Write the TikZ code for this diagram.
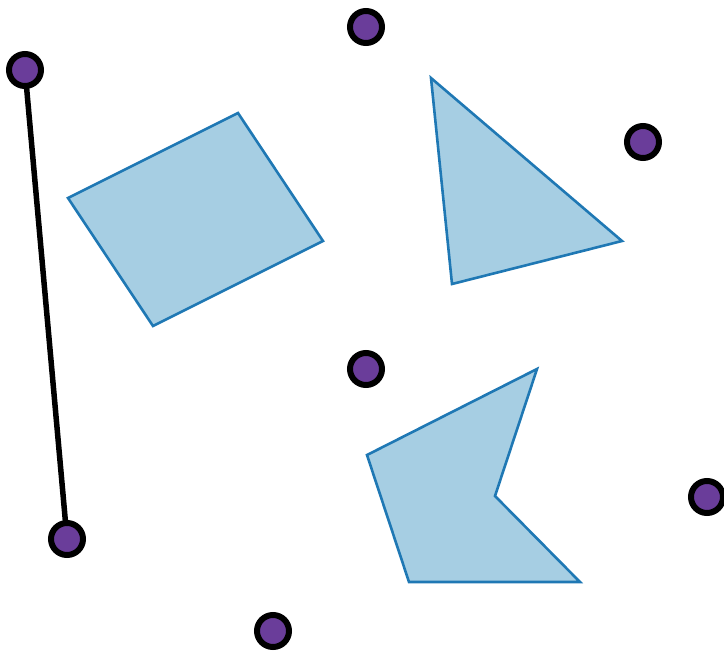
\documentclass[tikz,border=0pt]{standalone}
\usetikzlibrary{positioning}
\definecolor{shapefill}{RGB}{166,206,227}
\definecolor{shapeedge}{RGB}{31,120,180}
\definecolor{dotfill}{RGB}{106,61,154}
\tikzset{
  region/.style={fill=shapefill,draw=shapeedge,line width=2.6pt,line join=miter},
  site/.style={circle,fill=dotfill,draw=black,line width=6pt,minimum size=32pt,inner sep=0pt},
  segment/.style={draw=black,line width=5.5pt}
}
\begin{document}
\begin{tikzpicture}[x=1pt,y=-1pt]
  \useasboundingbox (0,0) rectangle (724,654);
  % polygons
  \draw[region] (68,198) -- (238,113) -- (323,241) -- (153,326) -- cycle;
  \draw[region] (431,78) -- (622,241) -- (452,284) -- cycle;
  \draw[region] (537,369) -- (495,496) -- (580,582) -- (409,582) -- (367,455) -- cycle;
  % segment and points
  \coordinate (a) at (25,70);
  \coordinate (b) at (67,539);
  \draw[segment] (a) -- (b);
  \foreach \p/\n in {{(25,70)}/pa,{(366,27)}/pb,{(643,142)}/pc,{(366,369)}/pd,
      {(707,497)}/pe,{(67,539)}/pf,{(273,631)}/pg}
    \node[site] (\n) at \p {};
\end{tikzpicture}
\end{document}
